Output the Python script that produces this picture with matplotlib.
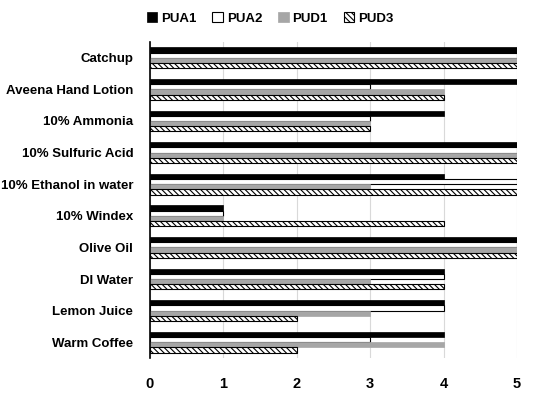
import numpy as np
import matplotlib
matplotlib.use("Agg")
from matplotlib import pyplot as plt

# categories listed top to bottom as in the chart
categories = ["Catchup", "Aveena Hand Lotion", "10% Ammonia", "10% Sulfuric Acid",
              "10% Ethanol in water", "10% Windex", "Olive Oil", "DI Water",
              "Lemon Juice", "Warm Coffee"]
pua1 = [5, 5, 4, 5, 4, 1, 5, 4, 4, 4]
pua2 = [5, 3, 3, 5, 5, 1, 5, 4, 4, 3]
pud1 = [5, 4, 3, 5, 3, 1, 5, 3, 3, 4]
pud3 = [5, 4, 3, 5, 5, 4, 5, 4, 2, 2]
series_names = ["PUA1", "PUA2", "PUD1", "PUD3"]

plt.rcParams['font.family'] = ['Liberation Sans', 'DejaVu Sans']
plt.rcParams['hatch.linewidth'] = 0.8

fig = plt.figure(figsize=(5.4, 3.94), dpi=100)
ax = fig.add_axes([150 / 540, 1 - 358 / 394, 367 / 540, 316 / 394])
ax.set_axisbelow(True)

y = np.arange(len(categories))
h = 0.165
styles = [dict(facecolor="black", edgecolor="black", linewidth=0.5),
          dict(facecolor="white", edgecolor="black", linewidth=0.8),
          dict(facecolor="#a6a6a6", edgecolor="#a6a6a6", linewidth=0.5),
          dict(facecolor="white", edgecolor="black", linewidth=0.8, hatch="\\\\\\\\\\\\")]
for i, (vals, name, st) in enumerate(zip([pua1, pua2, pud1, pud3], series_names, styles)):
    ax.barh(y - 1.5 * h + i * h, vals, height=h * 0.97, label=name, zorder=3, **st)

ax.set_ylim(len(categories) - 0.5, -0.5)
ax.set_xlim(0, 5)
ax.set_xticks(range(6))
ax.set_yticks(y)
ax.set_yticklabels(categories, fontweight="bold", fontsize=9.5)
for lab in ax.get_xticklabels():
    lab.set_fontweight("bold")
    lab.set_fontsize(10.5)
ax.grid(axis="x", color="#d9d9d9", linewidth=0.8, zorder=0)
for s in ["top", "right", "bottom"]:
    ax.spines[s].set_visible(False)
ax.spines["left"].set_linewidth(1.2)
ax.spines["left"].set_zorder(4)
ax.tick_params(axis="y", length=0, pad=12)
ax.tick_params(axis="x", length=0, pad=14)

leg = fig.legend(loc="upper center", bbox_to_anchor=(0.50, 1.0), ncol=4, frameon=False,
                 prop={"weight": "bold", "size": 9.5}, handlelength=0.8, handleheight=0.8,
                 handletextpad=0.3, columnspacing=1.2)

fig.savefig("out.png", dpi=100)
